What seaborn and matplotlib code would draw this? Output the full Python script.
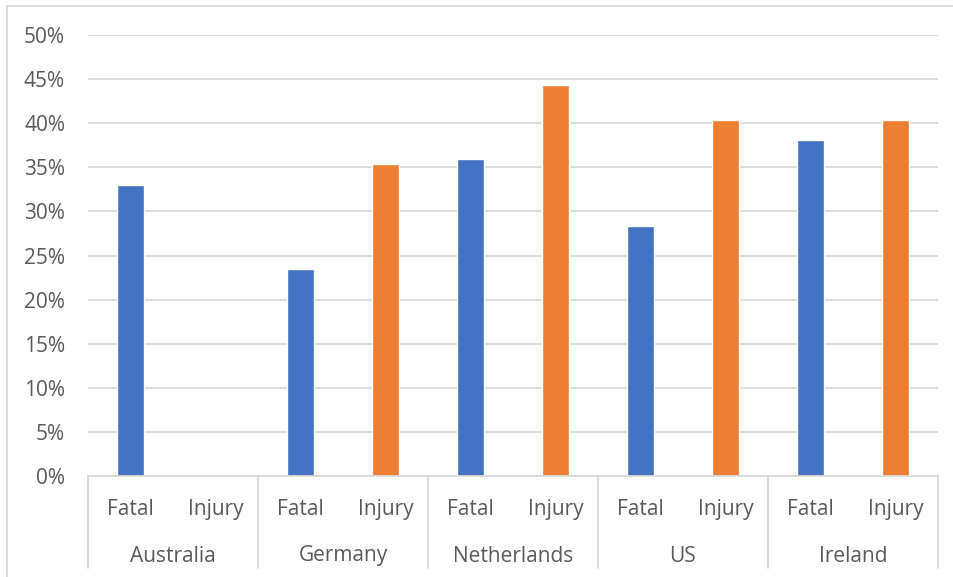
import numpy as np
import pandas as pd
import matplotlib
matplotlib.use("Agg")
import matplotlib.pyplot as plt
import seaborn as sns
from matplotlib.patches import Rectangle
import matplotlib.transforms as mtransforms

countries = ["Australia", "Germany", "Netherlands", "US", "Ireland"]
types = ["Fatal", "Injury"]
fatal = [33.0, 23.45, 35.95, 28.3, 38.1]
injury = [np.nan, 35.35, 44.35, 40.4, 40.4]
y_ticks = [0, 5, 10, 15, 20, 25, 30, 35, 40, 45, 50]
colors = {"Fatal": "#4472C4", "Injury": "#ED7D31"}

rows = []
for c, f, i in zip(countries, fatal, injury):
    rows.append({"pos": f"{c}|Fatal", "Country": c, "Type": "Fatal", "Value": f})
    rows.append({"pos": f"{c}|Injury", "Country": c, "Type": "Injury", "Value": i})
df = pd.DataFrame(rows)
order = list(df["pos"])

sns.set_theme(style="white")
plt.rcParams["font.family"] = ["Open Sans", "DejaVu Sans"]
text_color = "#595959"
grid_color = "#d9d9d9"
fs = 15

W, H = 954, 577
fig = plt.figure(figsize=(W / 100, H / 100), dpi=100)
ax = fig.add_axes([88 / W, 1 - 476 / H, 850 / W, 441 / H])

sns.barplot(data=df, x="pos", y="Value", hue="Type", order=order,
            palette=colors, dodge=False, width=0.32, ax=ax, legend=False,
            saturation=1)

ax.set_ylim(0, 50)
ax.set_xlim(-0.5, len(order) - 0.5)
ax.set_yticks(y_ticks)
ax.set_yticklabels([f"{v}%" for v in y_ticks])
ax.yaxis.grid(True, color=grid_color, linewidth=1.3)
ax.set_axisbelow(True)
ax.set_xlabel("")
ax.set_ylabel("")
for s in ["top", "right", "left"]:
    ax.spines[s].set_visible(False)
ax.spines["bottom"].set_color(grid_color)
ax.spines["bottom"].set_linewidth(1.3)

ax.set_xticks(range(len(order)))
ax.set_xticklabels(list(df["Type"]))
ax.tick_params(axis="x", length=0, pad=16.5, labelsize=fs, labelcolor=text_color)
ax.tick_params(axis="y", length=0, pad=16.5, labelsize=fs, labelcolor=text_color)

trans = mtransforms.blended_transform_factory(ax.transData, ax.transAxes)
bottom = (476 - 568) / 441
n = len(types)
for k in range(len(countries) + 1):
    xb = k * n - 0.5
    ax.plot([xb, xb], [0, bottom], transform=trans, color=grid_color,
            linewidth=1.3, clip_on=False)
for k, c in enumerate(countries):
    xc = k * n + (n - 1) / 2
    ax.text(xc, (476 - 556) / 441, c, transform=trans, ha="center", va="center",
            fontsize=fs, color=text_color)

fig.patches.append(Rectangle((7 / W, -0.05), 1.2, 1 - 6 / H + 0.05,
                             transform=fig.transFigure, fill=False,
                             edgecolor=grid_color, linewidth=1.3))

fig.savefig("out.png", dpi=100)
